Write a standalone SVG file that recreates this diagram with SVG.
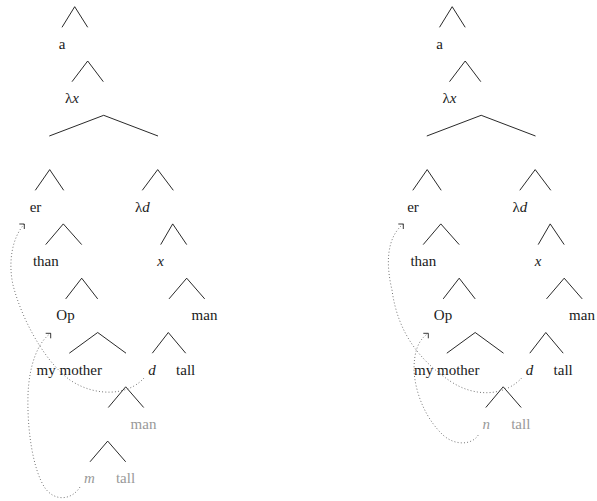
<svg xmlns="http://www.w3.org/2000/svg" width="597" height="501" viewBox="0 0 597 501">
  <defs>
    <style>
      text { font-family: 'Liberation Serif', 'Times New Roman', serif; font-size: 15px; fill: #1a1a1a; text-anchor: middle; }
      .it { font-style: italic; }
      .gray { fill: #999999; }
      .branch { fill: none; stroke: #111; stroke-width: 0.9; }
      .move { fill: none; stroke: #555; stroke-width: 0.9; stroke-dasharray: 0.9 2.3; }
      .tip { fill: none; stroke: #222; stroke-width: 0.9; }
    </style>
  </defs>
  <rect width="597" height="501" fill="#ffffff"/>

  <!-- left tree -->
  <g id="tree-left">
    <g id="connectors-left" class="branch">
      <path d="M62,27.3 L74.7,6.7 L87.7,27.3"/>
      <path d="M72,81.7 L87.7,61 L103.3,81.7"/>
      <path d="M49.3,136 L103.7,115.3 L158,136"/>
      <path d="M35.3,190.3 L49.7,169.6 L63.7,190.3"/>
      <path d="M142.3,190.3 L157.7,169.6 L173.3,190.3"/>
      <path d="M45.7,244.6 L63.3,223.9 L81.7,244.6"/>
      <path d="M160.7,244.6 L172.7,223.9 L186.7,244.6"/>
      <path d="M65.7,298.9 L81.7,278.2 L97.7,298.9"/>
      <path d="M169,298.9 L186.7,278.2 L204.7,298.9"/>
      <path d="M69.3,353.2 L97.7,332.5 L126,353.2"/>
      <path d="M152.3,353.2 L168.3,332.5 L185.7,353.2"/>
      <path d="M108.3,407.5 L125.7,386.8 L143.7,407.5"/>
      <path d="M90,461.8 L107.7,441.1 L125.7,461.8"/>
    </g>
    <!-- movement arrows: d to er, m to Op -->
    <g id="movement-left">
      <path class="move" d="M144,378 C128,396 95,397 70,380 C45,362 22,320 13,285 C8,262 12,238 24.3,224"/>
      <path class="tip" d="M19.3,224 H24.3 V229"/>
      <path class="move" d="M80,487 C72,500 55,502 45,488 C33,470 27,430 28,395 C29,365 38,342 50.7,333.3"/>
      <path class="tip" d="M45.7,333.3 H50.7 V338.3"/>
    </g>
    <g id="L-a"><text x="62" y="48.7">a</text></g>
    <g id="L-lx"><text x="72" y="103">λ<tspan class="it">x</tspan></text></g>
    <g id="L-er"><text x="35.5" y="211.6">er</text></g>
    <g id="L-ld"><text x="142.3" y="211.6">λ<tspan class="it">d</tspan></text></g>
    <g id="L-than"><text x="45.8" y="265.9">than</text></g>
    <g id="L-x"><text class="it" x="160.5" y="265.9">x</text></g>
    <g id="L-op"><text x="65.5" y="320.2">Op</text></g>
    <g id="L-man"><text x="204.5" y="320.2">man</text></g>
    <g id="L-mother"><text x="69.3" y="374.5">my mother</text></g>
    <g id="L-d"><text class="it" x="152" y="374.5">d</text></g>
    <g id="L-tall"><text x="185.7" y="374.5">tall</text></g>
    <g id="L-man2"><text class="gray" x="143.5" y="428.8">man</text></g>
    <g id="L-m"><text class="it gray" x="89.5" y="483.1">m</text></g>
    <g id="L-tall2"><text class="gray" x="125.5" y="483.1">tall</text></g>
  </g>

  <!-- right tree -->
  <g id="tree-right">
    <g id="connectors-right" class="branch">
      <path d="M439.5,27.3 L452.2,6.7 L465.2,27.3"/>
      <path d="M449.5,81.7 L465.2,61 L480.8,81.7"/>
      <path d="M426.8,136 L481.2,115.3 L535.5,136"/>
      <path d="M412.8,190.3 L427.2,169.6 L441.2,190.3"/>
      <path d="M519.8,190.3 L535.2,169.6 L550.8,190.3"/>
      <path d="M423.2,244.6 L440.8,223.9 L459.2,244.6"/>
      <path d="M538.2,244.6 L550.2,223.9 L564.2,244.6"/>
      <path d="M443.2,298.9 L459.2,278.2 L475.2,298.9"/>
      <path d="M546.5,298.9 L564.2,278.2 L582.2,298.9"/>
      <path d="M446.8,353.2 L475.2,332.5 L503.5,353.2"/>
      <path d="M529.8,353.2 L545.8,332.5 L563.2,353.2"/>
      <path d="M485.8,407.5 L503.2,386.8 L521.2,407.5"/>
    </g>
    <!-- movement arrows: d to er, n to Op -->
    <g id="movement-right">
      <path class="move" d="M521.7,378 C505,396 475,398 450,381 C422,362 398,335 392,290 C386,265 386,238 403.3,224"/>
      <path class="tip" d="M398.3,224 H403.3 V229"/>
      <path class="move" d="M478.3,435 C472,445 455,446 443,435 C425,418 415,392 414,370 C414,352 418,340 428.3,333.3"/>
      <path class="tip" d="M423.3,333.3 H428.3 V338.3"/>
    </g>
    <g id="R-a"><text x="439.5" y="48.7">a</text></g>
    <g id="R-lx"><text x="449.5" y="103">λ<tspan class="it">x</tspan></text></g>
    <g id="R-er"><text x="413" y="211.6">er</text></g>
    <g id="R-ld"><text x="519.8" y="211.6">λ<tspan class="it">d</tspan></text></g>
    <g id="R-than"><text x="423.3" y="265.9">than</text></g>
    <g id="R-x"><text class="it" x="538" y="265.9">x</text></g>
    <g id="R-op"><text x="443" y="320.2">Op</text></g>
    <g id="R-man"><text x="582" y="320.2">man</text></g>
    <g id="R-mother"><text x="446.8" y="374.5">my mother</text></g>
    <g id="R-d"><text class="it" x="529.5" y="374.5">d</text></g>
    <g id="R-tall"><text x="563.2" y="374.5">tall</text></g>
    <g id="R-n"><text class="it gray" x="486.3" y="428.8">n</text></g>
    <g id="R-tall2"><text class="gray" x="520.8" y="428.8">tall</text></g>
  </g>
</svg>
